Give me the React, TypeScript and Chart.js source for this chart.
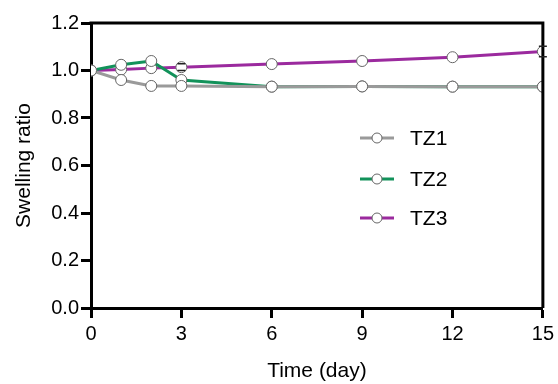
import React, { useEffect, useRef } from "react";
import { Chart, registerables } from "chart.js";

Chart.register(...registerables);

const days = [0, 1, 2, 3, 6, 9, 12, 15];
const tz1 = [1.0, 0.96, 0.935, 0.935, 0.932, 0.933, 0.932, 0.932];
const tz2 = [1.0, 1.024, 1.04, 0.96, 0.932, 0.933, 0.932, 0.932];
const tz3 = [1.0, 1.004, 1.01, 1.014, 1.027, 1.04, 1.056, 1.08];
const tz3Err = [0, 0, 0, 0.014, 0, 0, 0, 0.022];
const seriesNames = ["TZ1", "TZ2", "TZ3"];
const seriesColors = ["#9a9a9a", "#12925a", "#9b2a9e"];
const yTicks = [0, 0.2, 0.4, 0.6, 0.8, 1.0, 1.2];
const xTicks = [0, 3, 6, 9, 12, 15];

const FONT = "'Liberation Sans', Arial, sans-serif";
const PR = 5.5;

const extrasPlugin = {
  id: "extras",
  afterDatasetsDraw(chart: any) {
    const ctx = chart.ctx;
    const xs = chart.scales.x;
    const ys = chart.scales.y;
    const a = chart.chartArea;
    ctx.save();
    ctx.strokeStyle = "#000";
    ctx.lineWidth = 3;
    ctx.beginPath();
    ctx.moveTo(a.left - 1.5, a.top);
    ctx.lineTo(a.right, a.top);
    ctx.lineTo(a.right, a.bottom);
    ctx.stroke();
    ctx.lineWidth = 1.5;
    ctx.strokeStyle = "#222";
    days.forEach((d, i) => {
      const e = tz3Err[i];
      if (!e) return;
      const x = xs.getPixelForValue(d);
      const yc = ys.getPixelForValue(tz3[i]);
      const y1 = ys.getPixelForValue(tz3[i] + e);
      const y2 = ys.getPixelForValue(tz3[i] - e);
      ctx.beginPath();
      if (yc - PR > y1) {
        ctx.moveTo(x, y1);
        ctx.lineTo(x, yc - PR);
      }
      if (yc + PR < y2) {
        ctx.moveTo(x, yc + PR);
        ctx.lineTo(x, y2);
      }
      ctx.moveTo(x - 4, y1);
      ctx.lineTo(x + 4, y1);
      ctx.moveTo(x - 4, y2);
      ctx.lineTo(x + 4, y2);
      ctx.stroke();
    });
    ctx.restore();
  },
  afterDraw(chart: any) {
    const ctx = chart.ctx;
    ctx.save();
    const lx = 360;
    const ly = [138, 179, 218];
    seriesNames.forEach((name, i) => {
      const y = ly[i];
      ctx.strokeStyle = seriesColors[i];
      ctx.lineWidth = 3;
      ctx.beginPath();
      ctx.moveTo(lx, y);
      ctx.lineTo(lx + 34, y);
      ctx.stroke();
      ctx.beginPath();
      ctx.arc(lx + 17, y, 5, 0, Math.PI * 2);
      ctx.fillStyle = "#fff";
      ctx.fill();
      ctx.strokeStyle = "#666";
      ctx.lineWidth = 1;
      ctx.stroke();
      ctx.fillStyle = "#000";
      ctx.font = `21px ${FONT}`;
      ctx.textBaseline = "middle";
      ctx.textAlign = "left";
      ctx.fillText(name, lx + 50, y + 1);
    });
    ctx.restore();
  },
};

export default function App() {
  const ref = useRef<HTMLCanvasElement>(null);
  useEffect(() => {
    const data = [tz1, tz2, tz3];
    const chart = new Chart(ref.current!, {
      type: "line",
      data: {
        datasets: seriesNames.map((n, i) => ({
          label: n,
          data: days.map((d, j) => ({ x: d, y: data[i][j] })),
          borderColor: seriesColors[i],
          borderWidth: 3,
          pointRadius: PR,
          pointBackgroundColor: "#fff",
          pointBorderColor: "#666",
          pointBorderWidth: 1,
          tension: 0,
        })),
      },
      options: {
        responsive: false,
        animation: false,
        layout: { padding: { top: 23, right: 15, left: 0, bottom: 0 } },
        plugins: { legend: { display: false }, tooltip: { enabled: false } },
        scales: {
          x: {
            type: "linear",
            min: 0,
            max: 15,
            afterBuildTicks: (s: any) => {
              s.ticks = xTicks.map((v) => ({ value: v }));
            },
            afterFit: (s: any) => {
              s.height = 76;
            },
            ticks: {
              color: "#000",
              font: { family: FONT, size: 20 },
              padding: 4,
              maxRotation: 0,
            },
            grid: {
              drawOnChartArea: false,
              tickLength: 10,
              tickWidth: 3,
              tickColor: "#000",
            },
            border: { color: "#000", width: 3 },
            title: {
              display: true,
              text: "Time (day)",
              color: "#000",
              font: { family: FONT, size: 21 },
              padding: { top: 6, bottom: 0 },
            },
          },
          y: {
            min: 0,
            max: 1.2,
            afterBuildTicks: (s: any) => {
              s.ticks = yTicks.map((v) => ({ value: v }));
            },
            afterFit: (s: any) => {
              s.width = 91;
            },
            ticks: {
              color: "#000",
              font: { family: FONT, size: 20 },
              padding: 2,
              callback: (v: any) => Number(v).toFixed(1),
            },
            grid: {
              drawOnChartArea: false,
              tickLength: 10,
              tickWidth: 3,
              tickColor: "#000",
            },
            border: { color: "#000", width: 3 },
            title: {
              display: true,
              text: "Swelling ratio",
              color: "#000",
              font: { family: FONT, size: 21 },
              padding: { top: 12, bottom: 4 },
            },
          },
        },
      },
      plugins: [extrasPlugin],
    } as any);
    return () => chart.destroy();
  }, []);
  return (
    <div style={{ position: "fixed", left: 0, top: 0, width: 558, height: 384, background: "#fff" }}>
      <canvas ref={ref} width={558} height={384} style={{ width: 558, height: 384 }} />
    </div>
  );
}
